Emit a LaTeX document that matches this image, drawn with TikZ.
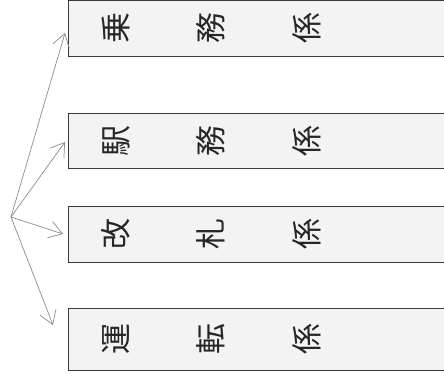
\documentclass[tikz,border=0pt]{standalone}
\usepackage{fontspec}
\newfontfamily\jpfont{Noto Sans CJK JP}
\usetikzlibrary{arrows.meta,calc}
\usetikzlibrary{positioning}

\definecolor{boxline}{HTML}{3A3A3A}
\definecolor{boxfill}{HTML}{F3F3F3}
\definecolor{arrowgray}{HTML}{8C8C8C}
\definecolor{ink}{HTML}{262626}

\tikzset{
  kakari/.style={draw=boxline, fill=boxfill, line width=0.9pt, minimum width=420pt,
    anchor=west, inner sep=0pt},
  moji/.style={rotate=90, inner sep=0pt, text=ink,
    font=\jpfont\fontsize{31}{31}\selectfont},
  yaji/.style={draw=arrowgray, line width=0.7pt,
    -{Straight Barb[length=13pt,width=17pt]}},
}

\begin{document}
\begin{tikzpicture}[x=1pt,y=-1pt]
  \useasboundingbox (0,0) rectangle (444,377);
  \clip (0,0) rectangle (444,377);

  % boxes
  \node[kakari, minimum height=56pt] (jomu) at (68, 28) {};
  \node[kakari, minimum height=55pt] (ekimu) at (68, 140.5) {};
  \node[kakari, minimum height=56pt] (kaisatsu) at (68, 234) {};
  \node[kakari, minimum height=62pt] (unten) at (68, 339) {};

  \node[moji] (jomu1) at (116, 28) {乗};
  \node[moji] (jomu2) at (211, 28) {務};
  \node[moji] (jomu3) at (307, 28) {係};

  \node[moji] (ekimu1) at (116, 140.5) {駅};
  \node[moji] (ekimu2) at (211, 140.5) {務};
  \node[moji] (ekimu3) at (307, 140.5) {係};

  \node[moji] (kaisatsu1) at (116, 234) {改};
  \node[moji] (kaisatsu2) at (211, 234) {札};
  \node[moji] (kaisatsu3) at (307, 234) {係};

  \node[moji] (unten1) at (116, 339) {運};
  \node[moji] (unten2) at (211, 339) {転};
  \node[moji] (unten3) at (307, 339) {係};

  % arrows
  \coordinate(O) at (11, 217);
  \coordinate(T1) at ($(jomu.west)+(-3,5)$);
  \coordinate(T2) at ($(ekimu.west)+(-3,1.5)$);
  \coordinate(T3) at ($(kaisatsu.west)+(-5,0)$);
  \coordinate(T4) at ($(unten.west)+(-15,-14)$);

\draw[yaji] (O) -- (T1);
\draw[yaji] (O) -- (T2);
\draw[yaji] (O) -- (T3);
\draw[yaji] (O) -- (T4);
\end{tikzpicture}
\end{document}
